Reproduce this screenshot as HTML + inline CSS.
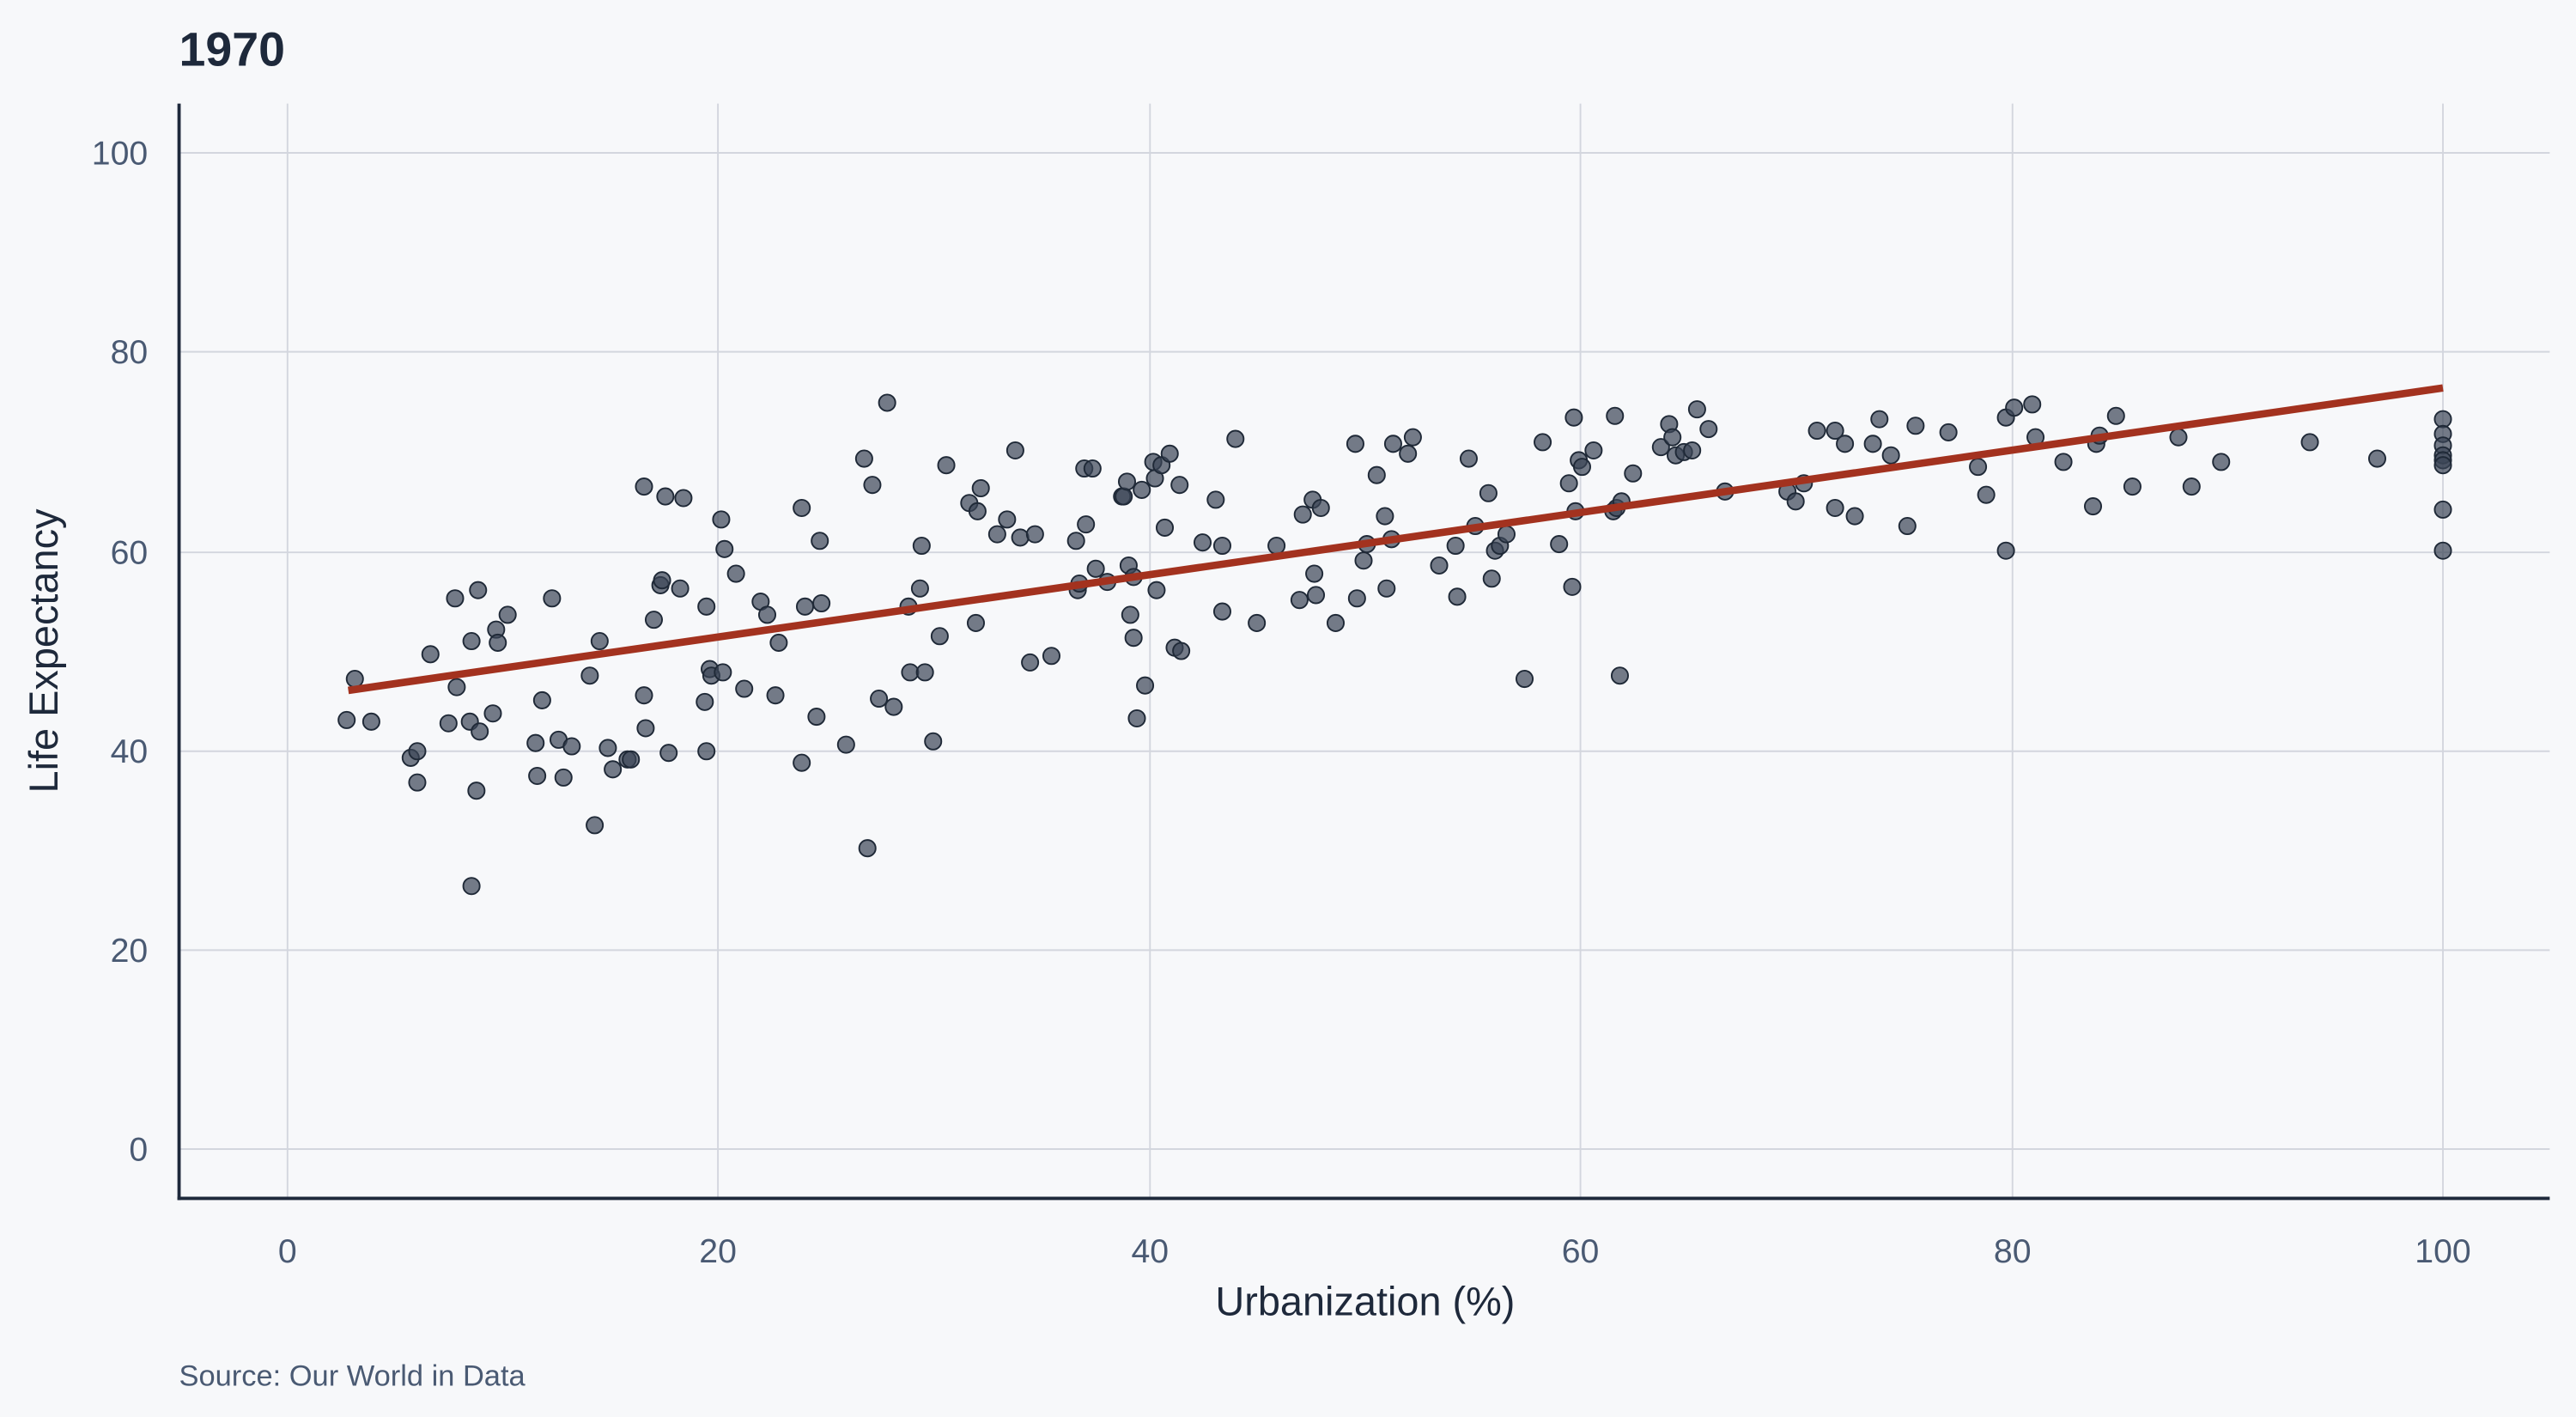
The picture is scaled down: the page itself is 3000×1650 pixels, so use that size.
<!DOCTYPE html>
<html><head><meta charset="utf-8"><style>
html,body{margin:0;padding:0;background:#f7f8fa;}
svg{display:block;}
text{font-family:"Liberation Sans",Arial,sans-serif;}
</style></head><body>
<svg width="3000" height="1650" viewBox="0 0 1568 862" preserveAspectRatio="none" xmlns="http://www.w3.org/2000/svg">
<rect width="1568" height="862" fill="#f7f8fa"/>
<g stroke="#d3d6de" stroke-width="1">
<line x1="175" y1="63" x2="175" y2="729"/><line x1="437" y1="63" x2="437" y2="729"/><line x1="700" y1="63" x2="700" y2="729"/><line x1="962" y1="63" x2="962" y2="729"/><line x1="1487" y1="63" x2="1487" y2="729"/><line x1="1225" y1="63" x2="1225" y2="729"/>
<line x1="109" y1="93" x2="1552" y2="93"/><line x1="109" y1="214" x2="1552" y2="214"/><line x1="109" y1="336" x2="1552" y2="336"/><line x1="109" y1="457" x2="1552" y2="457"/><line x1="109" y1="578" x2="1552" y2="578"/><line x1="109" y1="699" x2="1552" y2="699"/>
</g>
<g stroke="#1e293b" stroke-width="2"><line x1="109" y1="63" x2="109" y2="730"/><line x1="108" y1="729" x2="1552" y2="729"/></g>
<g fill="#4a5a73" font-size="20.5" text-anchor="middle">
<text x="175" y="768">0</text><text x="437" y="768">20</text><text x="700" y="768">40</text><text x="962" y="768">60</text><text x="1225" y="768">80</text><text x="1487" y="768">100</text>
</g>
<g fill="#4a5a73" font-size="20.5" text-anchor="end">
<text x="90" y="100">100</text><text x="90" y="221">80</text><text x="90" y="343">60</text><text x="90" y="464">40</text><text x="90" y="585">20</text><text x="90" y="706">0</text>
</g>
<text x="831" y="800" font-size="24.5" fill="#1e293b" text-anchor="middle">Urbanization (%)</text>
<text transform="translate(35,396) rotate(-90)" font-size="24.5" fill="#1e293b" text-anchor="middle">Life Expectancy</text>
<text x="109" y="40" font-size="29" font-weight="bold" fill="#1e293b">1970</text>
<text x="109" y="843" font-size="18" fill="#4a5a73">Source: Our World in Data</text>
<g id="pts" fill="#3b4556" fill-opacity="0.7" stroke="#1f2937" stroke-width="1">
<circle cx="211" cy="438" r="5"/><circle cx="216" cy="413" r="5"/><circle cx="226" cy="439" r="5"/><circle cx="250" cy="461" r="5"/><circle cx="254" cy="457" r="5"/><circle cx="254" cy="476" r="5"/><circle cx="262" cy="398" r="5"/><circle cx="273" cy="440" r="5"/><circle cx="277" cy="364" r="5"/><circle cx="278" cy="418" r="5"/><circle cx="286" cy="439" r="5"/><circle cx="287" cy="390" r="5"/><circle cx="287" cy="539" r="5"/><circle cx="290" cy="481" r="5"/><circle cx="291" cy="359" r="5"/><circle cx="292" cy="445" r="5"/><circle cx="300" cy="434" r="5"/><circle cx="302" cy="383" r="5"/><circle cx="303" cy="391" r="5"/><circle cx="309" cy="374" r="5"/><circle cx="326" cy="452" r="5"/><circle cx="327" cy="472" r="5"/><circle cx="330" cy="426" r="5"/><circle cx="336" cy="364" r="5"/><circle cx="340" cy="450" r="5"/><circle cx="343" cy="473" r="5"/><circle cx="348" cy="454" r="5"/><circle cx="359" cy="411" r="5"/><circle cx="362" cy="502" r="5"/><circle cx="365" cy="390" r="5"/><circle cx="370" cy="455" r="5"/><circle cx="373" cy="468" r="5"/><circle cx="382" cy="462" r="5"/><circle cx="384" cy="462" r="5"/><circle cx="392" cy="296" r="5"/><circle cx="392" cy="423" r="5"/><circle cx="393" cy="443" r="5"/><circle cx="398" cy="377" r="5"/><circle cx="402" cy="356" r="5"/><circle cx="403" cy="353" r="5"/><circle cx="405" cy="302" r="5"/><circle cx="407" cy="458" r="5"/><circle cx="414" cy="358" r="5"/><circle cx="416" cy="303" r="5"/><circle cx="429" cy="427" r="5"/><circle cx="430" cy="369" r="5"/><circle cx="430" cy="457" r="5"/><circle cx="432" cy="407" r="5"/><circle cx="433" cy="411" r="5"/><circle cx="439" cy="316" r="5"/><circle cx="440" cy="409" r="5"/><circle cx="441" cy="334" r="5"/><circle cx="448" cy="349" r="5"/><circle cx="453" cy="419" r="5"/><circle cx="463" cy="366" r="5"/><circle cx="467" cy="374" r="5"/><circle cx="472" cy="423" r="5"/><circle cx="474" cy="391" r="5"/><circle cx="488" cy="464" r="5"/><circle cx="488" cy="309" r="5"/><circle cx="490" cy="369" r="5"/><circle cx="497" cy="436" r="5"/><circle cx="499" cy="329" r="5"/><circle cx="500" cy="367" r="5"/><circle cx="515" cy="453" r="5"/><circle cx="526" cy="279" r="5"/><circle cx="528" cy="516" r="5"/><circle cx="531" cy="295" r="5"/><circle cx="535" cy="425" r="5"/><circle cx="540" cy="245" r="5"/><circle cx="544" cy="430" r="5"/><circle cx="553" cy="369" r="5"/><circle cx="554" cy="409" r="5"/><circle cx="560" cy="358" r="5"/><circle cx="561" cy="332" r="5"/><circle cx="563" cy="409" r="5"/><circle cx="568" cy="451" r="5"/><circle cx="572" cy="387" r="5"/><circle cx="576" cy="283" r="5"/><circle cx="590" cy="306" r="5"/><circle cx="594" cy="379" r="5"/><circle cx="595" cy="311" r="5"/><circle cx="597" cy="297" r="5"/><circle cx="607" cy="325" r="5"/><circle cx="613" cy="316" r="5"/><circle cx="618" cy="274" r="5"/><circle cx="621" cy="327" r="5"/><circle cx="627" cy="403" r="5"/><circle cx="630" cy="325" r="5"/><circle cx="640" cy="399" r="5"/><circle cx="655" cy="329" r="5"/><circle cx="656" cy="359" r="5"/><circle cx="657" cy="355" r="5"/><circle cx="660" cy="285" r="5"/><circle cx="661" cy="319" r="5"/><circle cx="665" cy="285" r="5"/><circle cx="667" cy="346" r="5"/><circle cx="674" cy="354" r="5"/><circle cx="683" cy="302" r="5"/><circle cx="684" cy="302" r="5"/><circle cx="686" cy="293" r="5"/><circle cx="687" cy="344" r="5"/><circle cx="688" cy="374" r="5"/><circle cx="690" cy="351" r="5"/><circle cx="690" cy="388" r="5"/><circle cx="692" cy="437" r="5"/><circle cx="695" cy="298" r="5"/><circle cx="697" cy="417" r="5"/><circle cx="702" cy="281" r="5"/><circle cx="703" cy="291" r="5"/><circle cx="704" cy="359" r="5"/><circle cx="707" cy="283" r="5"/><circle cx="709" cy="321" r="5"/><circle cx="712" cy="276" r="5"/><circle cx="715" cy="394" r="5"/><circle cx="718" cy="295" r="5"/><circle cx="719" cy="396" r="5"/><circle cx="732" cy="330" r="5"/><circle cx="740" cy="304" r="5"/><circle cx="744" cy="372" r="5"/><circle cx="744" cy="332" r="5"/><circle cx="752" cy="267" r="5"/><circle cx="765" cy="379" r="5"/><circle cx="777" cy="332" r="5"/><circle cx="791" cy="365" r="5"/><circle cx="793" cy="313" r="5"/><circle cx="799" cy="304" r="5"/><circle cx="800" cy="349" r="5"/><circle cx="801" cy="362" r="5"/><circle cx="804" cy="309" r="5"/><circle cx="813" cy="379" r="5"/><circle cx="825" cy="270" r="5"/><circle cx="826" cy="364" r="5"/><circle cx="830" cy="341" r="5"/><circle cx="832" cy="331" r="5"/><circle cx="838" cy="289" r="5"/><circle cx="843" cy="314" r="5"/><circle cx="844" cy="358" r="5"/><circle cx="847" cy="328" r="5"/><circle cx="848" cy="270" r="5"/><circle cx="857" cy="276" r="5"/><circle cx="860" cy="266" r="5"/><circle cx="876" cy="344" r="5"/><circle cx="886" cy="332" r="5"/><circle cx="887" cy="363" r="5"/><circle cx="894" cy="279" r="5"/><circle cx="898" cy="320" r="5"/><circle cx="906" cy="300" r="5"/><circle cx="908" cy="352" r="5"/><circle cx="910" cy="335" r="5"/><circle cx="913" cy="332" r="5"/><circle cx="917" cy="325" r="5"/><circle cx="928" cy="413" r="5"/><circle cx="939" cy="269" r="5"/><circle cx="949" cy="331" r="5"/><circle cx="955" cy="294" r="5"/><circle cx="957" cy="357" r="5"/><circle cx="958" cy="254" r="5"/><circle cx="959" cy="311" r="5"/><circle cx="961" cy="280" r="5"/><circle cx="963" cy="284" r="5"/><circle cx="970" cy="274" r="5"/><circle cx="982" cy="311" r="5"/><circle cx="983" cy="253" r="5"/><circle cx="984" cy="309" r="5"/><circle cx="986" cy="411" r="5"/><circle cx="987" cy="305" r="5"/><circle cx="994" cy="288" r="5"/><circle cx="1011" cy="272" r="5"/><circle cx="1016" cy="258" r="5"/><circle cx="1018" cy="266" r="5"/><circle cx="1020" cy="277" r="5"/><circle cx="1025" cy="275" r="5"/><circle cx="1030" cy="274" r="5"/><circle cx="1033" cy="249" r="5"/><circle cx="1040" cy="261" r="5"/><circle cx="1050" cy="299" r="5"/><circle cx="1088" cy="299" r="5"/><circle cx="1093" cy="305" r="5"/><circle cx="1098" cy="294" r="5"/><circle cx="1106" cy="262" r="5"/><circle cx="1117" cy="262" r="5"/><circle cx="1117" cy="309" r="5"/><circle cx="1123" cy="270" r="5"/><circle cx="1129" cy="314" r="5"/><circle cx="1140" cy="270" r="5"/><circle cx="1144" cy="255" r="5"/><circle cx="1151" cy="277" r="5"/><circle cx="1161" cy="320" r="5"/><circle cx="1166" cy="259" r="5"/><circle cx="1186" cy="263" r="5"/><circle cx="1204" cy="284" r="5"/><circle cx="1209" cy="301" r="5"/><circle cx="1221" cy="335" r="5"/><circle cx="1221" cy="254" r="5"/><circle cx="1226" cy="248" r="5"/><circle cx="1237" cy="246" r="5"/><circle cx="1239" cy="266" r="5"/><circle cx="1256" cy="281" r="5"/><circle cx="1274" cy="308" r="5"/><circle cx="1276" cy="270" r="5"/><circle cx="1278" cy="265" r="5"/><circle cx="1288" cy="253" r="5"/><circle cx="1298" cy="296" r="5"/><circle cx="1326" cy="266" r="5"/><circle cx="1334" cy="296" r="5"/><circle cx="1352" cy="281" r="5"/><circle cx="1406" cy="269" r="5"/><circle cx="1447" cy="279" r="5"/><circle cx="1487" cy="255" r="5"/><circle cx="1487" cy="264" r="5"/><circle cx="1487" cy="271" r="5"/><circle cx="1487" cy="277" r="5"/><circle cx="1487" cy="280" r="5"/><circle cx="1487" cy="283" r="5"/><circle cx="1487" cy="310" r="5"/><circle cx="1487" cy="335" r="5"/>
</g>
<line x1="212" y1="420" x2="1487" y2="236" stroke="#a3321f" stroke-width="4.5"/>
</svg>
</body></html>
